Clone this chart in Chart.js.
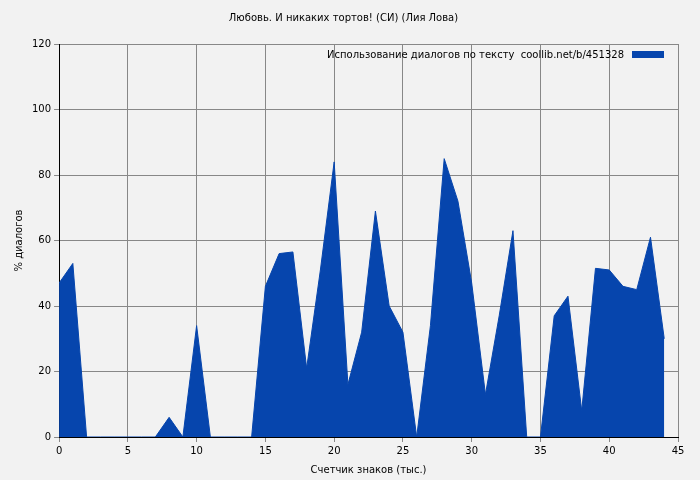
<!DOCTYPE html>
<html>
<head>
<meta charset="utf-8">
<script src="https://cdn.jsdelivr.net/npm/chart.js@4"></script>
<style>
  body { margin: 0; background: #f2f2f2; }
  #wrap { width: 700px; height: 480px; }
</style>
</head>
<body>
<div id="wrap"><canvas id="c" width="700" height="480"></canvas></div>
<script>
'use strict'

const xs = [0,1,2,3,4,5,6,7,8,9,10,11,12,13,14,15,16,17,18,19,20,21,22,23,24,25,26,27,28,29,30,31,32,33,34,35,36,37,38,39,40,41,42,43,44]
const dialogs = [47,53,0,0,0,0,0,0,6,0,34,0,0,0,0,46,56,56.5,21,51,84,16,32,69,40,32,0,34,85,72,47,13,37,63,0,0,37,43,8,51.5,51,46,45,61,30]
const title = 'Любовь. И никаких тортов! (СИ) (Лия Лова)'
const seriesName = 'Использование диалогов по тексту  coollib.net/b/451328'
const fillColor = '#0645ad'

Chart.defaults.font.family = 'DejaVu Sans'
Chart.defaults.font.size = 10
Chart.defaults.color = '#000'

const bgPlugin = {
    id: 'bg',
    beforeDraw(chart) {
        const ctx = chart.ctx
        ctx.save()
        ctx.fillStyle = '#f2f2f2'
        ctx.fillRect(0, 0, chart.width, chart.height)
        ctx.restore()
    }
}

// legend drawn inside the plot, top right, box on the right of the text
const legendPlugin = {
    id: 'innerLegend',
    afterDraw(chart) {
        const ctx = chart.ctx
        const area = chart.chartArea
        ctx.save()
        ctx.font = '10px "DejaVu Sans"'
        ctx.fillStyle = fillColor
        const boxX = area.right - 46
        ctx.fillRect(boxX, area.top + 7, 32, 7)
        ctx.fillStyle = '#000'
        ctx.textAlign = 'right'
        ctx.textBaseline = 'middle'
        ctx.fillText(seriesName, boxX - 8, area.top + 11)
        ctx.restore()
    }
}

const points = xs.map((x, i) => ({ x: x, y: dialogs[i] }))

new Chart(document.getElementById('c'), {
    type: 'line',
    data: {
        datasets: [{
            label: seriesName,
            data: points,
            fill: 'origin',
            backgroundColor: fillColor,
            borderColor: fillColor,
            borderWidth: 1,
            pointRadius: 0,
            tension: 0
        }]
    },
    options: {
        responsive: false,
        animation: false,
        layout: { padding: { left: 9, right: 22, top: 0, bottom: 0 } },
        plugins: {
            title: { display: true, text: title, font: { size: 10, weight: 'normal' }, padding: { top: 12, bottom: 20 } },
            legend: { display: false },
            tooltip: { enabled: false }
        },
        scales: {
            x: {
                type: 'linear',
                min: 0, max: 45,
                ticks: { stepSize: 5 },
                grid: { color: '#888', tickLength: 5 },
                border: { display: true, color: '#000' },
                title: { display: true, text: 'Счетчик знаков (тыс.)' }
            },
            y: {
                min: 0, max: 120,
                ticks: { stepSize: 20 },
                grid: { color: '#888', tickLength: 5 },
                border: { display: true, color: '#000' },
                title: { display: true, text: '% диалогов' }
            }
        }
    },
    plugins: [bgPlugin, legendPlugin]
})
</script>
</body>
</html>
